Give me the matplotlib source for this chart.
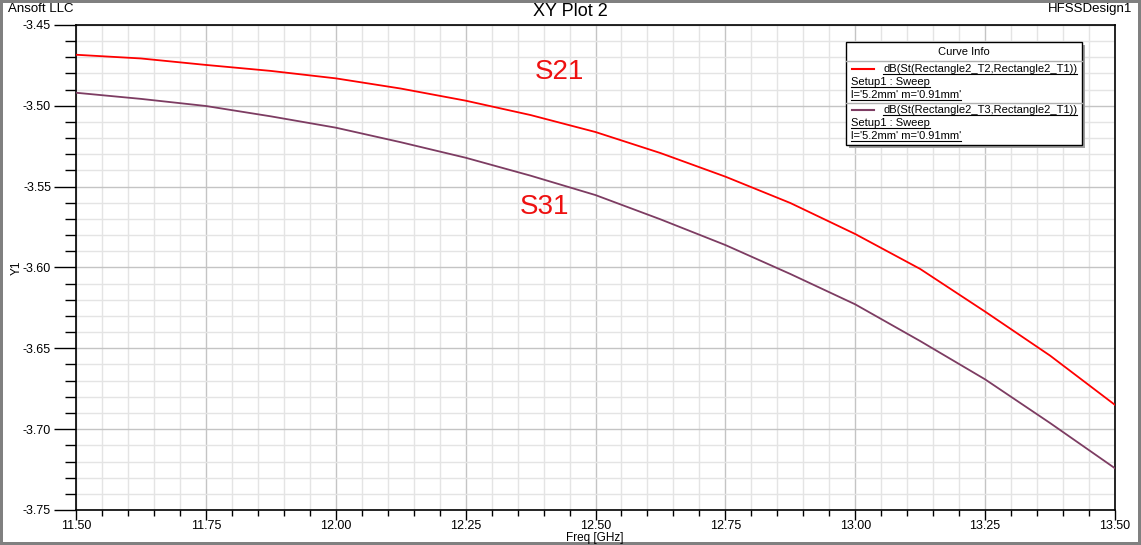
import numpy as np
import matplotlib.pyplot as plt
from matplotlib.lines import Line2D
from matplotlib.patches import Rectangle
from matplotlib.ticker import MultipleLocator

plt.rcParams['font.family'] = ['Liberation Sans', 'DejaVu Sans']

# data (Freq in GHz, dB)
freq = [11.5, 11.625, 11.75, 11.875, 12.0, 12.125, 12.25, 12.375, 12.5,
        12.625, 12.75, 12.875, 13.0, 13.125, 13.25, 13.375, 13.5]
s21 = [-3.4684, -3.4707, -3.4747, -3.4784, -3.4830, -3.4893, -3.4968, -3.5057, -3.5162,
       -3.5292, -3.5438, -3.5601, -3.5793, -3.6009, -3.6273, -3.6545, -3.6850]
s31 = [-3.4919, -3.4957, -3.5001, -3.5065, -3.5135, -3.5225, -3.5321, -3.5432, -3.5552,
       -3.5702, -3.5861, -3.6040, -3.6228, -3.6455, -3.6692, -3.6962, -3.7242]
names = ["dB(St(Rectangle2_T2,Rectangle2_T1))", "dB(St(Rectangle2_T3,Rectangle2_T1))"]
colors = ['#ff0000', '#7d3c62']

W, H = 1141, 545
fig = plt.figure(figsize=(W/100, H/100), dpi=100)
fig.patch.set_edgecolor('#808080')
fig.patch.set_linewidth(3)

def px(x, y):
    # pixel position (from top-left) -> figure fraction
    return x/W, 1 - y/H

ax = fig.add_axes([76/W, 1-510/H, (1115-76)/W, (510-25)/H])
ax.plot(freq, s21, color=colors[0], lw=1.3, zorder=3)
ax.plot(freq, s31, color=colors[1], lw=1.3, zorder=3)
ax.set_xlim(11.5, 13.5)
ax.set_ylim(-3.75, -3.45)
ax.xaxis.set_major_locator(MultipleLocator(0.25))
ax.xaxis.set_minor_locator(MultipleLocator(0.05))
ax.yaxis.set_major_locator(MultipleLocator(0.05))
ax.yaxis.set_minor_locator(MultipleLocator(0.01))
ax.xaxis.set_major_formatter(plt.FormatStrFormatter('%.2f'))
ax.yaxis.set_major_formatter(plt.FormatStrFormatter('%.2f'))
ax.grid(which='major', color='#c4c4c4', lw=1)
ax.grid(which='minor', color='#e4e4e4', lw=1)
ax.set_axisbelow(True)
ax.tick_params(axis='x', which='major', length=7, width=1, labelsize=9, pad=0)
ax.tick_params(axis='x', which='minor', length=4, width=1)
ax.tick_params(axis='y', which='major', length=16, width=1, labelsize=9, pad=2)
ax.tick_params(axis='y', which='minor', length=8, width=1)
for sp in ax.spines.values():
    sp.set_linewidth(1.2)

# axis titles placed as in the reference
fig.text(*px(595, 538), 'Freq [GHz]', fontsize=8.5, ha='center', va='center')
fig.text(*px(17, 268), 'Y1', fontsize=8.5, ha='center', va='center', rotation=90)

# handwritten labels
ax.text(12.431, -3.479, 'S21', color='#ee1111', fontsize=20, ha='center', va='center')
ax.text(12.402, -3.5626, 'S31', color='#ee1111', fontsize=20, ha='center', va='center')

# header texts
fig.text(*px(570, 12), 'XY Plot 2', fontsize=13, ha='center', va='center')
fig.text(*px(8, 9), 'Ansoft LLC', fontsize=9.5, ha='left', va='center')
fig.text(*px(1132, 9), 'HFSSDesign1', fontsize=9.5, ha='right', va='center')

# curve info box
bx0, by0, bx1, by1 = 846, 42, 1082, 145
x0, y0 = px(bx0 + 3, by1 + 3)
fig.add_artist(Rectangle((x0, y0), (bx1-bx0)/W, (by1-by0)/H, transform=fig.transFigure,
                         facecolor='#a0a0a0', edgecolor='none', zorder=4))
x0, y0 = px(bx0, by1)
fig.add_artist(Rectangle((x0, y0), (bx1-bx0)/W, (by1-by0)/H, transform=fig.transFigure,
                         facecolor='white', edgecolor='black', lw=1, zorder=5))
fig.text(*px(964, 52), 'Curve Info', fontsize=8, ha='center', va='center', zorder=6)
for yy in (61, 103):
    fig.add_artist(Line2D([bx0/W, bx1/W], [1-yy/H]*2, transform=fig.transFigure,
                          color='#b0b0b0', lw=1, zorder=6))

texts = []
for i, (name, c) in enumerate(zip(names, colors)):
    ys = 69 + i*41
    fig.add_artist(Line2D([852/W, 874/W], [1-ys/H]*2, transform=fig.transFigure,
                          color=c, lw=1.5, zorder=6))
    texts.append(fig.text(*px(883, ys), name, fontsize=8, ha='left', va='center', zorder=6))
    texts.append(fig.text(*px(851, ys + 13), 'Setup1 : Sweep', fontsize=8,
                          ha='left', va='center', zorder=6))
    texts.append(fig.text(*px(851, ys + 26), "l='5.2mm' m='0.91mm'", fontsize=8,
                          ha='left', va='center', zorder=6))

# underline the legend entries
fig.canvas.draw()
for t in texts:
    bb = t.get_window_extent()
    yl = bb.y0 + 0.5
    fig.add_artist(Line2D([bb.x0/W, bb.x1/W], [yl/H]*2, transform=fig.transFigure,
                          color='black', lw=0.8, zorder=6))

fig.savefig('out.png', dpi=100)
